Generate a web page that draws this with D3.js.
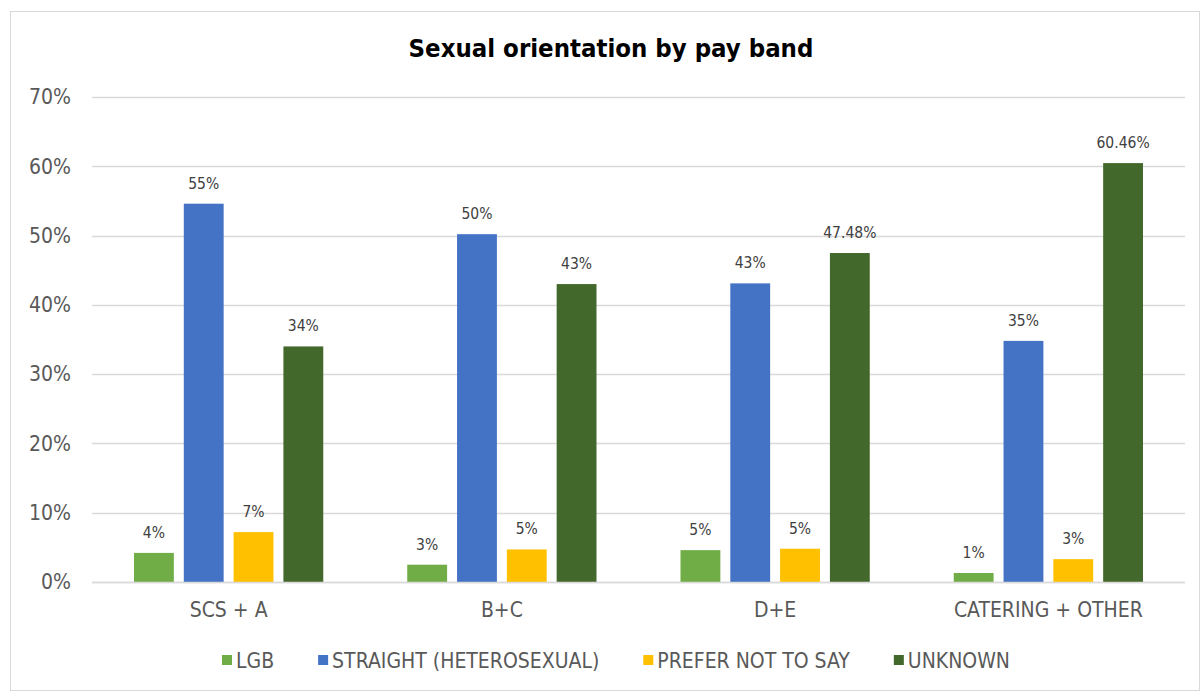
<!DOCTYPE html>
<html>
<head>
<meta charset="utf-8">
<script src="https://cdn.jsdelivr.net/npm/d3@7"></script>
<style>
  html, body { margin: 0; padding: 0; background: #fff; }
  svg { display: block; }
</style>
</head>
<body>
<svg id="chart" width="1200" height="691"></svg>
<script>
// Pay bands on the x axis
const categories = ["SCS + A", "B+C", "D+E", "CATERING + OTHER"];

// Share of staff in each pay band, by reported sexual orientation
const seriesNames = ["LGB", "STRAIGHT (HETEROSEXUAL)", "PREFER NOT TO SAY", "UNKNOWN"];
const lgb      = [0.042, 0.025, 0.046, 0.013];
const straight = [0.546, 0.502, 0.431, 0.348];
const preferNot = [0.072, 0.047, 0.048, 0.033];
const unknown  = [0.340, 0.430, 0.4748, 0.6046];

// Decimal places used in each series' value labels
const labelDecimals = [[0, 0, 0, 0], [0, 0, 0, 0], [0, 0, 0, 0], [0, 0, 2, 2]];

// Y axis ticks
const yTicks = [0, 0.1, 0.2, 0.3, 0.4, 0.5, 0.6, 0.7];

const seriesValues = [lgb, straight, preferNot, unknown];
const colors = ["#70ad47", "#4472c4", "#ffc000", "#43682b"];

const svg = d3.select("#chart");
const W = 1200, H = 691;
const font = "Tahoma, 'DejaVu Sans Condensed', 'DejaVu Sans', sans-serif";

// chart frame
svg.append("rect")
  .attr("x", 10.5).attr("y", 11.5)
  .attr("width", W - 11).attr("height", H - 12)
  .attr("fill", "#fff").attr("stroke", "#d9d9d9").attr("stroke-width", 1);

const plot = { left: 92, right: 1185, top: 97, bottom: 582 };

const x0 = d3.scaleBand()
  .domain(categories)
  .range([plot.left, plot.right])
  .paddingInner(0).paddingOuter(0);

const x1 = d3.scaleBand()
  .domain(d3.range(seriesNames.length))
  .range([42, x0.bandwidth() - 42])
  .paddingInner(0.2).paddingOuter(0);

const y = d3.scaleLinear().domain([0, 0.7]).range([plot.bottom, plot.top]);

// gridlines
svg.append("g")
  .selectAll("line")
  .data(yTicks)
  .join("line")
  .attr("x1", plot.left).attr("x2", plot.right)
  .attr("y1", d => Math.round(y(d)) + 0.5).attr("y2", d => Math.round(y(d)) + 0.5)
  .attr("stroke", "#d9d9d9").attr("stroke-width", 1.3);

// y axis labels
const yAxis = d3.axisLeft(y).tickValues(yTicks).tickFormat(d3.format(".0%")).tickSize(0).tickPadding(0);
const gy = svg.append("g").attr("transform", `translate(${plot.left - 21},0)`).call(yAxis);
gy.select(".domain").remove();
gy.selectAll("text")
  .attr("font-family", font).attr("font-size", 21).attr("fill", "#595959");

// bars
const groups = svg.append("g")
  .selectAll("g")
  .data(categories)
  .join("g")
  .attr("transform", d => `translate(${x0(d)},0)`);

groups.selectAll("rect")
  .data((c, ci) => seriesValues.map((vals, si) => ({ si, ci, v: vals[ci] })))
  .join("rect")
  .attr("x", d => x1(d.si))
  .attr("width", x1.bandwidth())
  .attr("y", d => y(d.v))
  .attr("height", d => y(0) - y(d.v))
  .attr("fill", d => colors[d.si]);

// value labels
groups.selectAll("text")
  .data((c, ci) => seriesValues.map((vals, si) => ({ si, ci, v: vals[ci] })))
  .join("text")
  .attr("x", d => x1(d.si) + x1.bandwidth() / 2)
  .attr("y", d => y(d.v) - 15)
  .attr("text-anchor", "middle")
  .attr("font-family", font).attr("font-size", 15.5).attr("fill", "#404040")
  .text(d => (d.v * 100).toFixed(labelDecimals[d.si][d.ci]) + "%");

// baseline
svg.append("line")
  .attr("x1", plot.left).attr("x2", plot.right)
  .attr("y1", plot.bottom + 0.5).attr("y2", plot.bottom + 0.5)
  .attr("stroke", "#d9d9d9").attr("stroke-width", 1.3);

// x axis labels
const xAxis = d3.axisBottom(x0).tickSize(0).tickPadding(0);
const gx = svg.append("g").attr("transform", `translate(0,${plot.bottom + 35})`).call(xAxis);
gx.select(".domain").remove();
gx.selectAll("text")
  .attr("dy", 0)
  .attr("font-family", font).attr("font-size", 21).attr("fill", "#595959");

// title
svg.append("text")
  .attr("x", 611).attr("y", 57)
  .attr("text-anchor", "middle")
  .attr("font-family", font).attr("font-size", 25.5).attr("font-weight", "bold").attr("fill", "#000")
  .text("Sexual orientation by pay band");

// legend: items laid out left to right from measured text widths, centred
const legendCenter = 616, itemGap = 44, swatch = 10, swatchGap = 4;
const legend = svg.append("g").attr("transform", "translate(0,655)");
const items = legend.selectAll("g")
  .data(seriesNames)
  .join("g");
items.append("rect")
  .attr("width", swatch).attr("height", swatch)
  .attr("fill", (d, i) => colors[i]);
items.append("text")
  .attr("x", swatch + swatchGap).attr("y", 12.5)
  .attr("font-family", font).attr("font-size", 21).attr("fill", "#595959")
  .text(d => d);
const widths = [];
items.each(function () {
  widths.push(swatch + swatchGap + this.querySelector("text").getComputedTextLength());
});
const total = d3.sum(widths) + itemGap * (widths.length - 1);
let cursor = legendCenter - total / 2;
items.attr("transform", (d, i) => {
  const t = `translate(${cursor},0)`;
  cursor += widths[i] + itemGap;
  return t;
});
</script>
</body>
</html>
